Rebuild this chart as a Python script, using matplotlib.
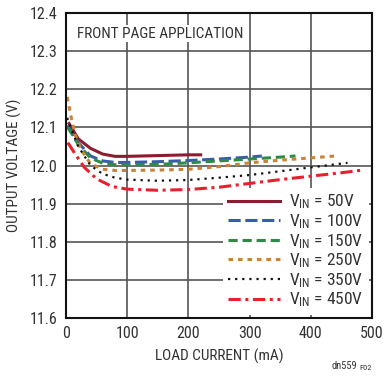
import matplotlib
matplotlib.use("Agg")
import matplotlib.pyplot as plt
from matplotlib import font_manager

fams = {f.name for f in font_manager.fontManager.ttflist}
main_font = 'Liberation Sans'
for cand in ['Roboto Condensed', 'Archivo Narrow', 'Liberation Sans Narrow', 'Barlow Semi Condensed', 'Asap Condensed']:
    if cand in fams:
        main_font = cand
        break
plt.rcParams['font.family'] = [main_font, 'DejaVu Sans']
plt.rcParams['mathtext.fontset'] = 'custom'
plt.rcParams['mathtext.rm'] = main_font
plt.rcParams['mathtext.it'] = main_font

# Data
x50 = [5, 20, 40, 60, 80, 100, 150, 200, 220]
y50 = [12.11, 12.07, 12.045, 12.03, 12.024, 12.024, 12.026, 12.028, 12.028]
x100 = [2, 20, 40, 60, 80, 100, 150, 200, 250, 300, 320]
y100 = [12.105, 12.06, 12.025, 12.012, 12.008, 12.008, 12.01, 12.013, 12.017, 12.022, 12.025]
x150 = [3, 20, 40, 60, 80, 100, 150, 200, 250, 300, 350, 375]
y150 = [12.1, 12.055, 12.02, 12.006, 12.002, 12.002, 12.003, 12.007, 12.012, 12.017, 12.022, 12.025]
x250 = [2, 8, 15, 25, 40, 60, 80, 100, 150, 200, 250, 300, 350, 400, 440]
y250 = [12.18, 12.13, 12.08, 12.04, 12.005, 11.99, 11.987, 11.987, 11.988, 11.99, 11.997, 12.007, 12.014, 12.02, 12.025]
x350 = [2, 10, 20, 40, 60, 80, 100, 150, 200, 250, 300, 350, 400, 460]
y350 = [12.125, 12.09, 12.05, 12.0, 11.978, 11.968, 11.963, 11.96, 11.962, 11.968, 11.975, 11.985, 11.995, 12.007]
x450 = [3, 15, 30, 50, 75, 100, 150, 200, 250, 300, 350, 400, 450, 485]
y450 = [12.06, 12.03, 11.995, 11.965, 11.945, 11.938, 11.935, 11.937, 11.943, 11.953, 11.963, 11.972, 11.981, 11.988]

labels = ['50V', '100V', '150V', '250V', '350V', '450V']
xticks = [0, 100, 200, 300, 400, 500]
yticks = [11.6, 11.7, 11.8, 11.9, 12.0, 12.1, 12.2, 12.3, 12.4]

fig = plt.figure(figsize=(3.84, 3.79), dpi=100)
ax = fig.add_axes([66/384, 61/379, 306/384, 305/379])

styles = [
    dict(color='#8C1C30', lw=2.2, ls='-'),
    dict(color='#3A5CAA', lw=2.2, ls=(0, (4, 1.5))),
    dict(color='#2E8B45', lw=2.2, ls=(0, (3, 1.6))),
    dict(color='#C8823A', lw=2.2, ls=(0, (1.5, 1.6))),
    dict(color='#111111', lw=1.6, ls=(0, (1, 2.2))),
    dict(color='#E8202E', lw=2.2, ls=(0, (4, 1.5, 1, 1.5))),
]
data = [(x50, y50), (x100, y100), (x150, y150), (x250, y250), (x350, y350), (x450, y450)]
for (xs, ys), st, lab in zip(data, styles, labels):
    ax.plot(xs, ys, label=r'V$_\mathregular{IN}$ = ' + lab, **st)

ax.set_xlim(0, 500)
ax.set_ylim(11.6, 12.4)
ax.set_xticks(xticks)
ax.set_yticks(yticks)
ax.set_yticklabels([f'{v:.1f}' for v in yticks])
ax.grid(True, color='#555555', lw=1.2)
ax.set_axisbelow(True)
for s in ax.spines.values():
    s.set_linewidth(1.5)
    s.set_color('#111111')
ax.tick_params(length=0, labelsize=11.5, colors='#333333', pad=6)
ax.set_xlabel('LOAD CURRENT (mA)', fontsize=11, color='#333333', labelpad=5)
ax.set_ylabel('OUTPUT VOLTAGE (V)', fontsize=11, color='#333333', labelpad=6)

ax.text(0.035, 0.955, 'FRONT PAGE APPLICATION', transform=ax.transAxes,
        fontsize=11, color='#333333', va='top', ha='left',
        bbox=dict(facecolor='white', edgecolor='none', pad=1))

leg = ax.legend(loc='lower right', frameon=True, fontsize=12.5, handlelength=3.0,
                handletextpad=0.5, labelspacing=0.05, borderaxespad=0.2,
                borderpad=0.3, labelcolor='#333333')
leg.get_frame().set_edgecolor('none')
leg.get_frame().set_facecolor('white')
leg.get_frame().set_alpha(1)

fig.text(357/384, 8/379, 'dn559', fontsize=7.5, color='#333333', ha='right', va='bottom')
fig.text(359/384, 8/379, 'F02', fontsize=6, color='#333333', ha='left', va='bottom')

fig.savefig('out.png', dpi=100)
